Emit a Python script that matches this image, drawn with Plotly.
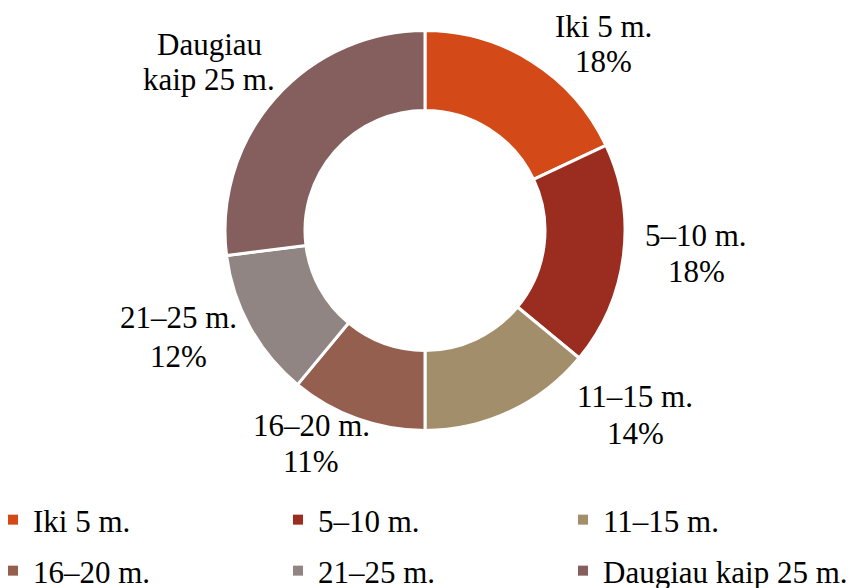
import plotly.graph_objects as go

categories = ["Iki 5 m.", "5–10 m.", "11–15 m.", "16–20 m.", "21–25 m.", "Daugiau kaip 25 m."]
values = [18, 18, 14, 11, 12, 27]
colors = ["#D34A18", "#9A2D1F", "#A38E6C", "#955F4F", "#918583", "#845F5D"]
label_line1 = ["Iki 5 m.", "5–10 m.", "11–15 m.", "16–20 m.", "21–25 m.", "Daugiau"]
label_line2 = ["18%", "18%", "14%", "11%", "12%", "kaip 25 m."]

FONT = "Times New Roman, Liberation Serif, serif"
W, H = 853, 588
B = 100            # bottom margin (legend area)
PH = H - B         # plot-area height

def py2y(py):
    return 1 - py / PH

fig = go.Figure()
fig.add_trace(go.Pie(
    labels=categories, values=values, sort=False, direction="clockwise",
    rotation=0, hole=0.6, textinfo="none", hoverinfo="label+percent",
    marker=dict(colors=colors, line=dict(color="white", width=3)),
    domain=dict(x=[225 / W, 625 / W], y=[py2y(431), py2y(30)]),
    showlegend=False,
))

# label line centres (px): (x, y line1, y line2)
label_pos = [(603, 26, 62), (696, 235, 271), (635, 396, 433),
             (311, 425, 461), (178, 317, 356), (209, 45, 80)]
for t1, t2, (px, py1, py2) in zip(label_line1, label_line2, label_pos):
    for t, py in ((t1, py1), (t2, py2)):
        fig.add_annotation(x=px / W, y=py2y(py), xref="paper", yref="paper",
                           text=t, showarrow=False, xanchor="center", yanchor="middle",
                           font=dict(family=FONT, size=31, color="black"))

# legend entries via dummy traces (two rows of three)
for i, (name, col) in enumerate(zip(categories, colors)):
    fig.add_trace(go.Scatter(
        x=[None], y=[None], mode="markers", name=name,
        marker=dict(symbol="square", size=10, color=col),
        legend="legend" if i < 3 else "legend2", hoverinfo="skip",
    ))

legend_common = dict(orientation="h", xanchor="left", yanchor="middle",
                     entrywidth=240, entrywidthmode="pixels", itemwidth=30,
                     font=dict(family=FONT, size=31, color="black"),
                     bgcolor="rgba(0,0,0,0)", traceorder="normal")
fig.update_layout(
    width=W, height=H,
    margin=dict(l=0, r=0, t=0, b=B, autoexpand=False),
    paper_bgcolor="white", plot_bgcolor="white",
    xaxis=dict(visible=False), yaxis=dict(visible=False),
    legend=dict(x=-7 / W, y=py2y(520), **legend_common),
    legend2=dict(x=-7 / W, y=py2y(571), **legend_common),
)

fig.write_html("out.html", config={"displayModeBar": False},
               post_script="document.body.style.margin='0px';document.body.style.overflow='hidden';")
